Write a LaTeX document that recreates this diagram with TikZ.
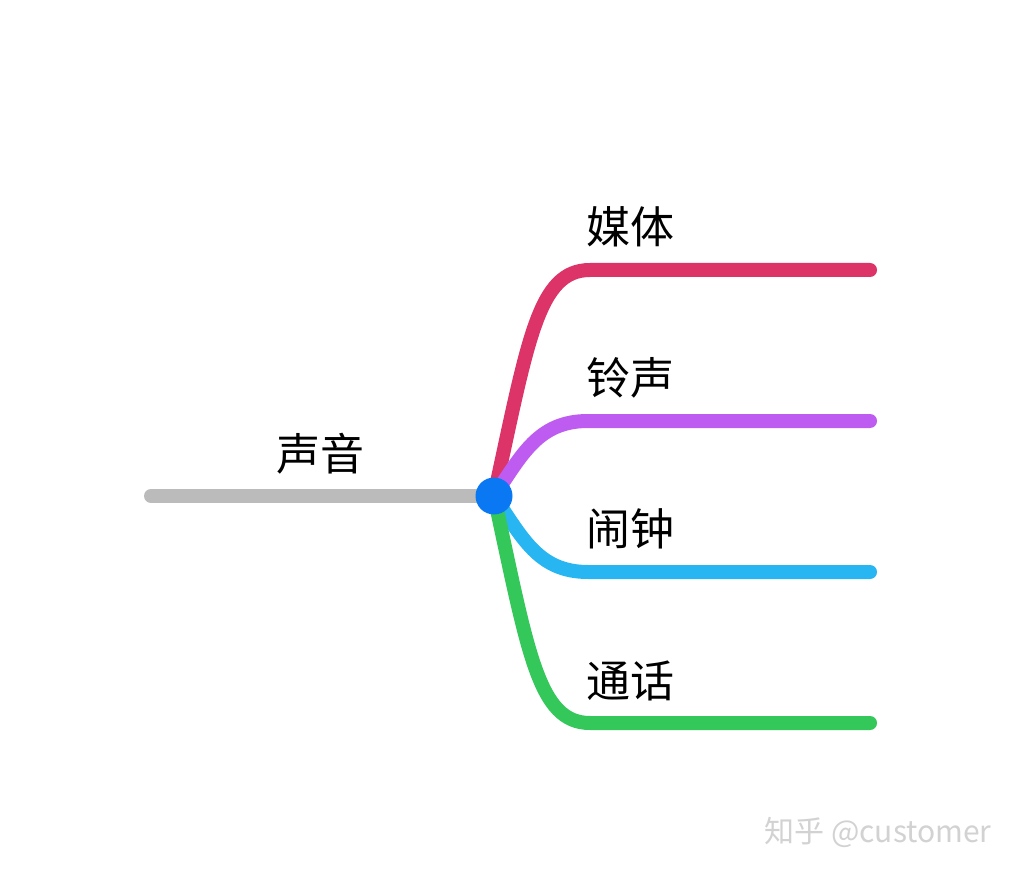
\documentclass[tikz,border=0pt]{standalone}
\usepackage{fontspec}
\newfontfamily\cjk{Noto Sans CJK SC}
\definecolor{cred}{HTML}{DC3468}
\definecolor{cpurple}{HTML}{BE5CF2}
\definecolor{ccyan}{HTML}{28B6F2}
\definecolor{cgreen}{HTML}{34C75A}
\definecolor{cgray}{HTML}{BBBBBB}
\definecolor{cblue}{HTML}{0A78F2}
\definecolor{cmark}{HTML}{D2D2D2}
\begin{document}
\begin{tikzpicture}[x=1pt,y=-1pt,
  branch/.style={line width=14pt,line cap=round},
  lbl/.style={font=\cjk\fontsize{44}{44}\selectfont,inner sep=0pt,anchor=center}]
\useasboundingbox (0,0) rectangle (1020,874);
\fill[white] (0,0) rectangle (1020,874);
\coordinate (root) at (151,496);
\coordinate (c) at (494,496);
\coordinate (e1) at (870,270);
\coordinate (e2) at (870,421);
\coordinate (e3) at (870,572);
\coordinate (e4) at (870,723);
\draw[branch,cred] (c) .. controls (528,340) and (538,270) .. (590,270) -- (e1);
\draw[branch,cpurple] (c) .. controls (522,455) and (538,421) .. (588,421) -- (e2);
\draw[branch,ccyan] (c) .. controls (522,537) and (538,572) .. (588,572) -- (e3);
\draw[branch,cgreen] (c) .. controls (528,652) and (538,723) .. (590,723) -- (e4);
\draw[branch,cgray] (root) -- (c);
\node[circle,fill=cblue,minimum size=37pt,inner sep=0pt] (center) at (c) {};
\node[lbl] (t0) at (320,454) {声音};
\node[lbl] (t1) at (630,227) {媒体};
\node[lbl] (t2) at (630,378) {铃声};
\node[lbl] (t3) at (630,529) {闹钟};
\node[lbl] (t4) at (630,681) {通话};
\node[font=\cjk\fontsize{30}{30}\selectfont,text=cmark,inner sep=0pt] (wm) at (878,832) {知乎 @customer};
\end{tikzpicture}
\end{document}
